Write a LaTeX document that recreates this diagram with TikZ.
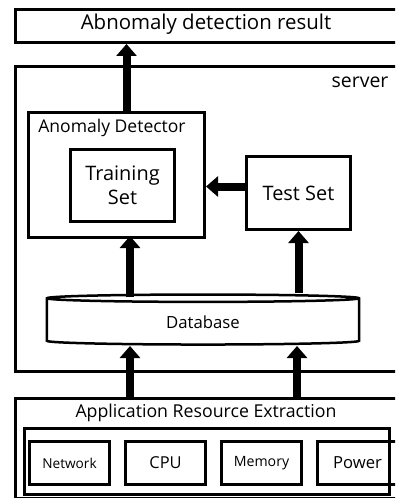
\documentclass[tikz,border=0pt]{standalone}
\usepackage{fontspec}
\setmainfont{Open Sans}
\usetikzlibrary{arrows.meta,shapes.geometric,positioning}

\tikzset{
  box/.style={draw, line width=3bp, inner sep=0pt},
  unit/.style={box, minimum width=80bp, minimum height=43bp},
  bigarrow/.style={line width=8bp, -{Triangle[width=20bp,length=12bp]}},
}

\begin{document}
\begin{tikzpicture}[x=1bp,y=-1bp]
            \clip (0,0) rectangle (395,498);
            \fill[white] (0,0) rectangle (395,498);
            % result
            \node[box, anchor=north west, minimum width=400bp, minimum height=33bp] (result) at (14,8) {};
            \node[font=\fontsize{20.5}{24}\selectfont] (resultlabel) at (206,24) {Abnomaly detection result};
            % server
            \node[box, anchor=north west, minimum width=400bp, minimum height=305bp] (server) at (14,65) {};
            \node[font=\fontsize{19.5}{23}\selectfont] (serverlabel) at (360,82) {server};
            \node[box, anchor=north west, minimum width=176bp, minimum height=125bp] (detector) at (27,111) {};
            \node[font=\fontsize{17.6}{21}\selectfont] (detectorlabel) at (112,128) {Anomaly Detector};
            \node[box, anchor=north west, minimum width=104bp, minimum height=72bp, align=center,
                  font=\fontsize{20}{24}\selectfont] (training) at (69,148) {Training\\Set};
            \node[box, anchor=north west, minimum width=104bp, minimum height=73bp,
                  font=\fontsize{20}{24}\selectfont] (testset) at (245,155) {Test Set};
            \node[cylinder, shape border rotate=90, draw, line width=2.5bp, inner sep=0pt, aspect=0.1,
                  minimum width=312bp, minimum height=50bp, font=\fontsize{16.8}{20}\selectfont] (db) at (203,322) {Database};
            % extraction
            \node[box, anchor=north west, minimum width=400bp, minimum height=100bp] (extract) at (14,397) {};
            \node[font=\fontsize{17.8}{21}\selectfont] (extractlabel) at (206,413) {Application Resource Extraction};
            \node[box, anchor=north west, minimum width=365bp, minimum height=66bp] (frame) at (23,427) {};
            \node[unit, anchor=north west, font=\fontsize{13.7}{16}\selectfont] (network) at (28,440) {Network};
            \node[unit, right=13bp of network, font=\fontsize{16.5}{20}\selectfont] (cpu) {CPU};
            \node[unit, right=13bp of cpu, font=\fontsize{14.2}{17}\selectfont] (memory) {Memory};
            \node[unit, right=13bp of memory, font=\fontsize{16.7}{20}\selectfont] (power) {Power};
            % arrows
            \draw[bigarrow] ([xshift=10bp]detector.north) -- ([xshift=10bp]detector.north |- result.south);
            \draw[bigarrow] ([yshift=6.5bp]testset.west) -- ([yshift=6.5bp]testset.west -| detector.east);
            \draw[bigarrow] (130,297) -- (130,236);
            \draw[bigarrow] (db.north -| testset.south) -- (testset.south);
            \draw[bigarrow] (130,397) -- (130,346);
            \draw[bigarrow] (297,397) -- (297,346);
\end{tikzpicture}
\end{document}
